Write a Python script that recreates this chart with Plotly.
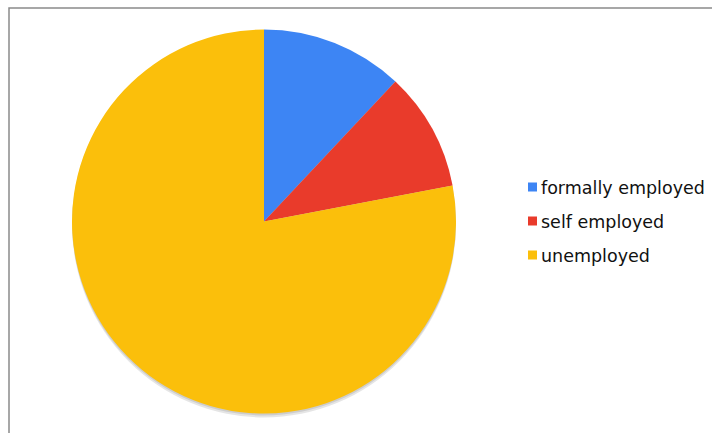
import plotly.graph_objects as go

# Employment status shares (percent)
labels = ["formally employed", "self employed", "unemployed"]
values = [12, 10, 78]
colors = ["#3d85f4", "#e93b2b", "#fbbf0b"]

W, H = 712, 433


def px(x):
    return x / W


def py(y):
    return 1 - y / H


fig = go.Figure(
    go.Pie(
        labels=labels,
        values=values,
        sort=False,
        direction="clockwise",
        rotation=0,
        textinfo="none",
        hoverinfo="label+percent",
        marker=dict(colors=colors, line=dict(width=0)),
        domain=dict(x=[px(72), px(456)], y=[py(413.5), py(29.5)]),
        showlegend=False,
    )
)

shapes = [
    # outer frame
    dict(type="rect", xref="paper", yref="paper",
         x0=px(9), x1=px(W + 5), y0=py(H + 5), y1=py(8),
         line=dict(color="#8a8a8a", width=1.5), layer="below"),
    # soft drop shadow under the pie
    dict(type="circle", xref="paper", yref="paper",
         x0=px(72), x1=px(456), y0=py(417.5), y1=py(32),
         fillcolor="rgba(0,0,0,0.10)", line=dict(width=0), layer="below"),
    dict(type="circle", xref="paper", yref="paper",
         x0=px(72), x1=px(456), y0=py(415.5), y1=py(30.5),
         fillcolor="rgba(0,0,0,0.10)", line=dict(width=0), layer="below"),
]

annotations = []
legend_y = [187, 221, 255]
for lab, col, yy in zip(labels, colors, legend_y):
    shapes.append(dict(type="rect", xref="paper", yref="paper",
                       x0=px(528), x1=px(537), y0=py(yy + 4.5), y1=py(yy - 4.5),
                       fillcolor=col, line=dict(width=0)))
    annotations.append(dict(text=lab, xref="paper", yref="paper",
                            x=px(539), y=py(yy + 1), xanchor="left", yanchor="middle",
                            showarrow=False,
                            font=dict(family="DejaVu Sans, sans-serif",
                                      size=17.5, color="#111111")))

fig.update_layout(
    width=W, height=H,
    margin=dict(l=0, r=0, t=0, b=0),
    paper_bgcolor="white",
    plot_bgcolor="white",
    shapes=shapes,
    annotations=annotations,
)

fig.write_html("out.html")
